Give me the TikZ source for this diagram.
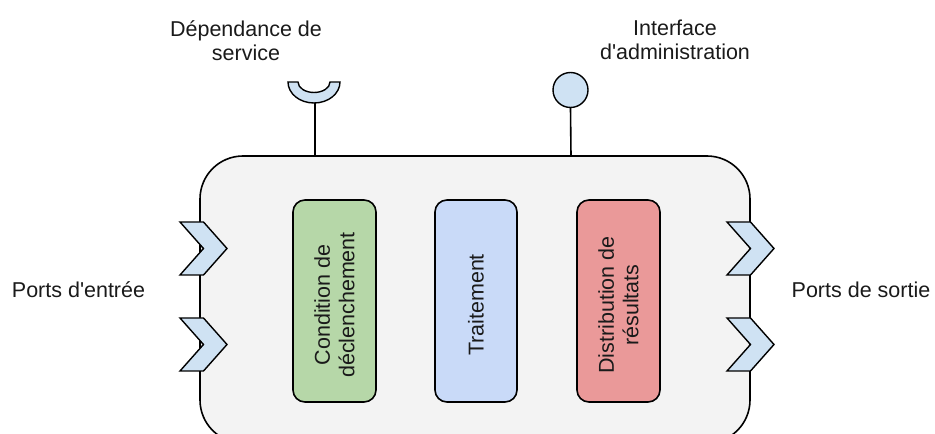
\documentclass[tikz,border=0pt]{standalone}
\usepackage{fontspec}
\setmainfont{Liberation Sans}
\definecolor{bggray}{HTML}{F3F3F3}
\definecolor{portblue}{HTML}{CFE2F3}
\definecolor{boxgreen}{HTML}{B6D7A8}
\definecolor{boxblue}{HTML}{C9DAF8}
\definecolor{boxred}{HTML}{EA9999}
\definecolor{txt}{HTML}{1A1A1A}
\begin{document}
\begin{tikzpicture}[x=1pt,y=1pt,
  lbl/.style={font=\fontsize{21.5}{24.5}\selectfont, text=txt, align=center, inner sep=0pt},
  stage/.style={draw=black, line width=1.6pt, rounded corners=12pt},
  port/.style={draw=black, line width=1.4pt, fill=portblue, line join=miter},
  outline/.style={draw=black, line width=1.6pt}
]
\useasboundingbox (0,0) rectangle (935,434);
\begin{scope}
\clip (0,0) rectangle (935,434);
% main component
\draw[outline, fill=bggray, rounded corners=43pt] (200,-9) rectangle (750,278);
% stems
\coordinate (stemA) at (315,278);
\coordinate (stemB) at (571,278);
% service dependency half ring
\draw[port] (288,352) arc[start angle=180, end angle=360, x radius=26, y radius=21]
  -- (330,352) arc[start angle=360, end angle=180, x radius=16, y radius=10.5] -- cycle;
\coordinate (ringbot) at (315,331);
\draw[outline] (stemA) -- (ringbot);
% admin interface circle
\node[port, circle, minimum size=35pt, inner sep=0pt] (admin) at (570.5,344) {};
\draw[outline] (stemB) -- (admin.south);
% ports
\foreach \b/\c [count=\i] in {180/185.5, 180/89.5, 727/185.5, 727/89.5}{
  \draw[port] (\b,\c+26.5) -- ++(23.5,0) -- ++(23.5,-26.5) -- ++(-23.5,-26.5)
     -- ++(-23.5,0) -- ++(23.5,26.5) -- cycle;
}
% stages
\node[stage, fill=boxgreen, minimum width=83pt, minimum height=202pt] (cond) at (334.5,133) {};
\node[stage, fill=boxblue, minimum width=82pt, minimum height=202pt] (trait) at (476,133) {};
\node[stage, fill=boxred, minimum width=83pt, minimum height=202pt] (dist) at (618.5,133) {};
\node[lbl, rotate=90] (condt) at (334.5,129) {Condition de\\déclenchement};
\node[lbl, rotate=90] (traitt) at (476,129) {Traitement};
\node[lbl, rotate=90] (distt) at (618.5,129) {Distribution de\\résultats};
\end{scope}
% labels
\node[lbl] (dep) at (246,393.5) {Dépendance de\\service};
\node[lbl] (adm) at (675,394) {Interface\\d\textquotesingle administration};
\node[lbl] (pin) at (78.5,144.5) {Ports d\textquotesingle entrée};
\node[lbl] (pout) at (861,144.5) {Ports de sortie};
\end{tikzpicture}
\end{document}
